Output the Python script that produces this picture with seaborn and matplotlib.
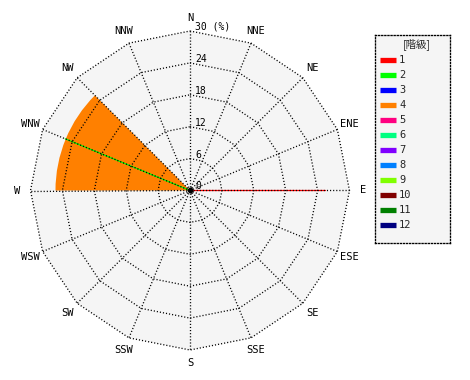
import numpy as np
import pandas as pd
import matplotlib
matplotlib.use("Agg")
import matplotlib.pyplot as plt
import seaborn as sns

# ---------------- data ----------------
directions = ['N', 'NNE', 'NE', 'ENE', 'E', 'ESE', 'SE', 'SSE',
              'S', 'SSW', 'SW', 'WSW', 'W', 'WNW', 'NW', 'NNW']
radial_ticks = [0, 6, 12, 18, 24, 30]
classes = ['1', '2', '3', '4', '5', '6', '7', '8', '9', '10', '11', '12']
class_colors = ['#ff0000', '#00ff00', '#0000ff', '#ff8000', '#ff0080', '#00ff80',
                '#8000ff', '#0080ff', '#80ff00', '#800000', '#008000', '#000080']

# class 4: filled sector from W to NW
sector_class = '4'
sector_dirs = ['W', 'WNW', 'NW']
sector_value = 25.3

# single radial lines
line_classes = ['1', '2']
line_dirs = ['E', 'WNW']
line_values = [25.4, 25.4]

# ---------------- style ----------------
sns.set_style("white")
plt.rcParams['font.family'] = ['DejaVu Sans Mono', 'DejaVu Sans']

W_PX, H_PX = 470, 380
fig = plt.figure(figsize=(W_PX / 100, H_PX / 100), dpi=100)
fig.patch.set_facecolor('white')

RMAX = 34.0
R30_PX = 159.5
rpx = R30_PX * RMAX / 30.0
cx, cy = 190.0, 189.5  # center from bottom-left in pixels
ax = fig.add_axes([(cx - rpx) / W_PX, (cy - rpx) / H_PX, 2 * rpx / W_PX, 2 * rpx / H_PX],
                  projection='polar')
ax.set_theta_zero_location('N')
ax.set_theta_direction(-1)
ax.set_ylim(0, RMAX)
ax.grid(False)
ax.set_xticks([])
ax.set_yticks([])
ax.spines['polar'].set_visible(False)
ax.patch.set_visible(False)

step = 2 * np.pi / len(directions)
dir_theta = {d: i * step for i, d in enumerate(directions)}
ring_theta = np.array([dir_theta[d] for d in directions] + [0.0])

# gray background polygon
rmax_tick = radial_ticks[-1]
ax.fill(ring_theta, np.full(len(ring_theta), rmax_tick), color='#f5f5f5', zorder=0, lw=0)

# filled sector for class 4
c4 = class_colors[classes.index(sector_class)]
t_start = dir_theta[sector_dirs[0]]
t_end = dir_theta[sector_dirs[-1]]
ax.bar((t_start + t_end) / 2, sector_value, width=(t_end - t_start), bottom=0,
       color=c4, edgecolor='none', zorder=1, align='center')

# single radial lines
for cls, d, v in zip(line_classes, line_dirs, line_values):
    df = pd.DataFrame({'theta': [dir_theta[d], dir_theta[d]], 'r': [0, v]})
    sns.lineplot(data=df, x='theta', y='r', ax=ax, color=class_colors[classes.index(cls)],
                 lw=0.9, sort=False, estimator=None, zorder=2)
ax.set_xlabel('')
ax.set_ylabel('')

# polygon grid
GLW = 0.95
dot = (0, (0.85, 1.5))
for t in radial_ticks[1:]:
    ax.plot(ring_theta, np.full(len(ring_theta), t), color='black', lw=GLW,
            linestyle=dot, zorder=3)
for d in directions:
    ax.plot([dir_theta[d], dir_theta[d]], [0, rmax_tick], color='black', lw=GLW,
            linestyle=dot, zorder=3)
ax.plot([0], [0], marker='o', ms=3, color='black', zorder=4)

# direction labels
for d in directions:
    ax.text(dir_theta[d], 32.5, d, ha='center', va='center', fontsize=7.5, color='black')

# radial tick labels
for t in radial_ticks:
    lab = f"{t} (%)" if t == rmax_tick else str(t)
    ax.annotate(lab, xy=(0, t), xytext=(5, 4), textcoords='offset pixels',
                ha='left', va='center', fontsize=7, color='black', zorder=5)

# ---------------- legend ----------------
lx0, ly0, lw_px, lh_px = 375, 35, 75, 208
lax = fig.add_axes([lx0 / W_PX, (H_PX - ly0 - lh_px) / H_PX, lw_px / W_PX, lh_px / H_PX])
lax.set_xlim(0, lw_px)
lax.set_ylim(lh_px, 0)
lax.set_xticks([])
lax.set_yticks([])
lax.set_facecolor('#f5f5f5')
for s in lax.spines.values():
    s.set_linestyle(dot)
    s.set_linewidth(GLW)
    s.set_color('black')
lax.text(42, 9.5, '[階級]', ha='center', va='center', fontsize=7.5,
         family=['Noto Sans CJK JP', 'DejaVu Sans'])
for i, (cls, col) in enumerate(zip(classes, class_colors)):
    y = 25 + 15 * i
    lax.plot([5, 21], [y, y], color=col, lw=3.8, solid_capstyle='butt')
    lax.text(24, y, cls, ha='left', va='center', fontsize=7.5)

fig.savefig('out.png', dpi=100, facecolor='white')
